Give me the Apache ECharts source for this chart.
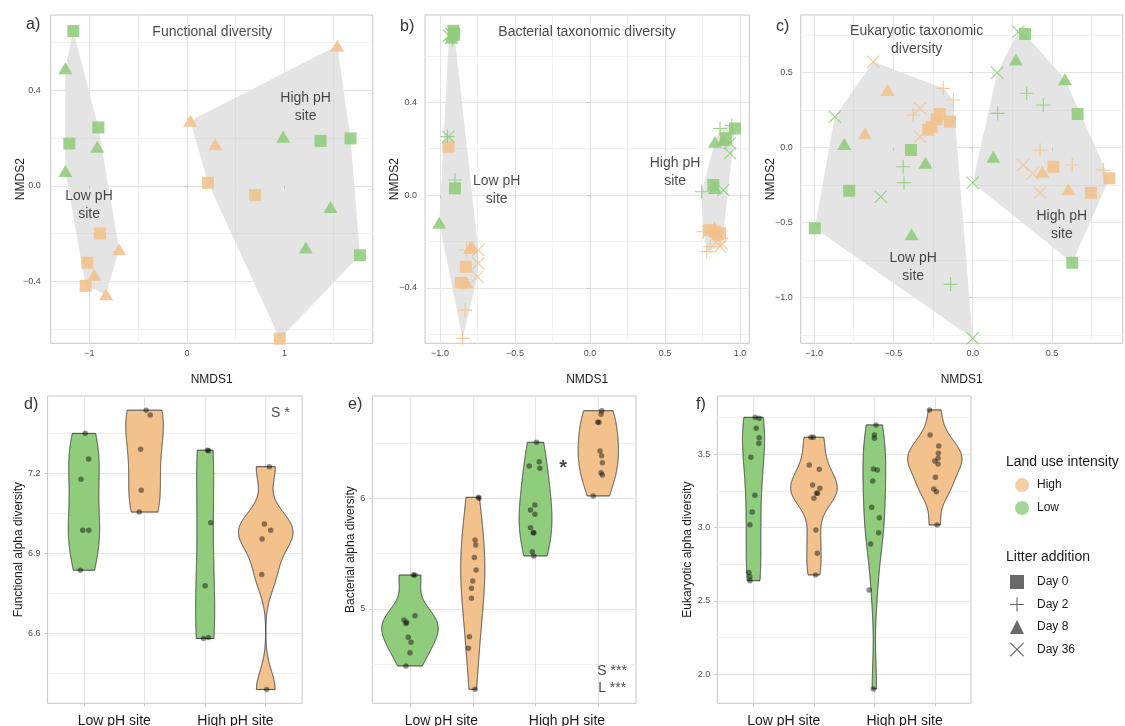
<!DOCTYPE html>
<html><head><meta charset="utf-8">
<script src="https://cdn.jsdelivr.net/npm/echarts@6/dist/echarts.min.js"></script>
<style>html,body{margin:0;padding:0;background:#fff}#c{width:1125px;height:726px}</style>
</head><body><div id="c"></div>
<script>
// ================= DATA =================
const landUse = ['High', 'Low'];
const days = ['Day 0', 'Day 2', 'Day 8', 'Day 36'];
const siteNames = ['Low pH site', 'High pH site'];

// NMDS rows: [NMDS1, NMDS2, site (0 low pH, 1 high pH), landUse (0 High, 1 Low), day index]
const functionalNMDS = [
  [-1.165, 0.647, 0, 1, 0], [-0.908, 0.244, 0, 1, 0], [-1.206, 0.177, 0, 1, 0],
  [-1.247, 0.491, 0, 1, 2], [-0.919, 0.163, 0, 1, 2], [-1.247, 0.062, 0, 1, 2],
  [-0.891, -0.199, 0, 0, 0], [-1.022, -0.321, 0, 0, 0], [-1.038, -0.418, 0, 0, 0],
  [-0.696, -0.265, 0, 0, 2], [-0.950, -0.371, 0, 0, 2], [-0.829, -0.453, 0, 0, 2],
  [1.370, 0.188, 1, 1, 0], [1.678, 0.198, 1, 1, 0], [1.774, -0.290, 1, 1, 0],
  [0.987, 0.205, 1, 1, 2], [1.473, -0.088, 1, 1, 2], [1.219, -0.258, 1, 1, 2],
  [0.216, 0.013, 1, 0, 0], [0.699, -0.039, 1, 0, 0], [0.952, -0.639, 1, 0, 0],
  [1.542, 0.585, 1, 0, 2], [0.034, 0.272, 1, 0, 2], [0.291, 0.174, 1, 0, 2]
];
const bacterialNMDS = [
  [-0.944, 0.208, 0, 0, 0], [-0.827, -0.309, 0, 0, 0], [-0.862, -0.378, 0, 0, 0],
  [-0.822, -0.237, 0, 0, 1], [-0.833, -0.496, 0, 0, 1], [-0.849, -0.618, 0, 0, 1],
  [-0.789, -0.222, 0, 0, 2], [-0.822, -0.378, 0, 0, 2], [-0.800, -0.228, 0, 0, 2],
  [-0.745, -0.237, 0, 0, 3], [-0.745, -0.295, 0, 0, 3], [-0.751, -0.352, 0, 0, 3],
  [-0.911, 0.708, 0, 1, 0], [-0.905, 0.695, 0, 1, 0], [-0.900, 0.029, 0, 1, 0],
  [-0.918, 0.672, 0, 1, 1], [-0.950, 0.252, 0, 1, 1], [-0.900, 0.065, 0, 1, 1],
  [-0.922, 0.678, 0, 1, 2], [-1.005, -0.119, 0, 1, 2], [-0.915, 0.690, 0, 1, 2],
  [-0.940, 0.687, 0, 1, 3], [-0.944, 0.251, 0, 1, 3], [-0.925, 0.695, 0, 1, 3],
  [0.800, -0.151, 1, 0, 0], [0.867, -0.165, 1, 0, 0], [0.833, -0.158, 1, 0, 0],
  [0.756, -0.158, 1, 0, 1], [0.800, -0.223, 1, 0, 1], [0.778, -0.244, 1, 0, 1],
  [0.822, -0.151, 1, 0, 2], [0.850, -0.170, 1, 0, 2], [0.830, -0.140, 1, 0, 2],
  [0.867, -0.223, 1, 0, 3], [0.844, -0.200, 1, 0, 3], [0.880, -0.210, 1, 0, 3],
  [0.967, 0.287, 1, 1, 0], [0.822, 0.043, 1, 1, 0], [0.905, 0.245, 1, 1, 0],
  [0.945, 0.300, 1, 1, 1], [0.867, 0.287, 1, 1, 1], [0.745, 0.014, 1, 1, 1],
  [0.833, 0.230, 1, 1, 2], [0.889, 0.237, 1, 1, 2], [0.833, 0.030, 1, 1, 2],
  [0.933, 0.223, 1, 1, 3], [0.933, 0.180, 1, 1, 3], [0.889, 0.022, 1, 1, 3]
];
const eukaryoticNMDS = [
  [-0.206, 0.225, 0, 0, 0], [-0.227, 0.190, 0, 0, 0], [-0.143, 0.173, 0, 0, 0], [-0.259, 0.140, 0, 0, 0], [-0.280, 0.120, 0, 0, 0],
  [-0.185, 0.396, 0, 0, 1], [-0.122, 0.318, 0, 0, 1], [-0.375, 0.218, 0, 0, 1],
  [-0.536, 0.385, 0, 0, 2], [-0.679, 0.096, 0, 0, 2],
  [-0.627, 0.573, 0, 0, 3], [-0.332, 0.263, 0, 0, 3], [-0.332, 0.073, 0, 0, 3],
  [-0.389, -0.015, 0, 1, 0], [-0.779, -0.287, 0, 1, 0], [-0.995, -0.537, 0, 1, 0],
  [-0.438, -0.127, 0, 1, 1], [-0.433, -0.233, 0, 1, 1], [-0.139, -0.911, 0, 1, 1],
  [-0.810, 0.025, 0, 1, 2], [-0.297, -0.100, 0, 1, 2], [-0.385, -0.577, 0, 1, 2],
  [-0.869, 0.207, 0, 1, 3], [-0.579, -0.327, 0, 1, 3], [0.000, -1.271, 0, 1, 3],
  [0.509, -0.127, 1, 0, 0], [0.862, -0.204, 1, 0, 0], [0.746, -0.300, 1, 0, 0],
  [0.425, -0.015, 1, 0, 1], [0.628, -0.115, 1, 0, 1], [0.824, -0.149, 1, 0, 1],
  [0.439, -0.160, 1, 0, 2], [0.603, -0.277, 1, 0, 2],
  [0.319, -0.115, 1, 0, 3], [0.378, -0.171, 1, 0, 3], [0.425, -0.300, 1, 0, 3],
  [0.330, 0.758, 1, 1, 0], [0.662, 0.225, 1, 1, 0], [0.628, -0.767, 1, 1, 0],
  [0.341, 0.363, 1, 1, 1], [0.446, 0.285, 1, 1, 1], [0.158, 0.229, 1, 1, 1],
  [0.273, 0.589, 1, 1, 2], [0.582, 0.456, 1, 1, 2], [0.130, -0.060, 1, 1, 2],
  [0.288, 0.773, 1, 1, 3], [0.155, 0.500, 1, 1, 3], [0.000, -0.233, 1, 1, 3]
];

// Annotations inside NMDS panels: [NMDS1, NMDS2, text]
const functionalNotes = [[0.26, 0.643, 'Functional diversity'], [1.217, 0.329, 'High pH\nsite'], [-1.004, -0.081, 'Low pH\nsite']];
const bacterialNotes = [[-0.02, 0.703, 'Bacterial taxonomic diversity'], [0.567, 0.10, 'High pH\nsite'], [-0.622, 0.022, 'Low pH\nsite']];
const eukaryoticNotes = [[-0.353, 0.718, 'Eukaryotic taxonomic\ndiversity'], [0.562, -0.515, 'High pH\nsite'], [-0.375, -0.793, 'Low pH\nsite']];

// Alpha diversity, group order: [Low pH/Low LU, Low pH/High LU, High pH/Low LU, High pH/High LU]
const groupLandUse = [1, 0, 1, 0];
const functionalAlpha = [
  [7.35, 7.254, 7.178, 6.987, 6.987, 6.837],
  [7.437, 7.419, 7.29, 7.137, 7.055],
  [7.287, 7.285, 7.015, 6.779, 6.581, 6.585],
  [7.225, 7.01, 6.987, 6.954, 6.821, 6.39]
];
const functionalJitter = [
  [0.02, 0.077, -0.05, -0.02, 0.08, -0.06],
  [0.027, 0.093, -0.066, -0.055, -0.088],
  [0.038, 0.055, 0.093, 0, -0.027, 0.055],
  [0.06, -0.022, 0.082, -0.06, -0.066, 0.016]
];
const bacterialAlpha = [
  [5.307, 5.307, 4.94, 4.9, 4.88, 4.87, 4.744, 4.7, 4.605, 4.485],
  [6.009, 6.0, 5.623, 5.578, 5.464, 5.352, 5.253, 5.187, 5.097, 4.75, 4.645, 4.275],
  [6.506, 6.331, 6.292, 6.271, 5.94, 5.894, 5.855, 5.734, 5.689, 5.689, 5.518, 5.479],
  [6.791, 6.759, 6.686, 6.686, 6.427, 6.385, 6.322, 6.231, 6.21, 6.021]
];
const bacterialJitter = [
  [0.053, 0.08, 0.08, -0.096, -0.053, -0.064, -0.027, 0.016, 0, -0.064],
  [0.09, 0.1, 0.037, 0.048, 0.027, 0.053, 0, -0.021, -0.021, -0.053, -0.069, 0.037],
  [0.016, 0.059, -0.1, 0.069, -0.01, -0.08, -0.01, -0.08, -0.037, -0.027, -0.053, -0.027],
  [0.053, 0.043, 0.01, -0.01, 0.027, 0.053, 0.064, 0.043, 0.064, -0.08]
];
const eukaryoticAlpha = [
  [3.752, 3.745, 3.677, 3.613, 3.575, 3.479, 3.22, 3.106, 3.02, 2.693, 2.665, 2.638],
  [3.616, 3.616, 3.426, 3.397, 3.29, 3.268, 3.234, 3.234, 3.2, 2.984, 2.825, 2.677],
  [3.7, 3.631, 3.609, 3.4, 3.393, 3.318, 3.138, 3.067, 2.965, 2.888, 2.575, 1.9],
  [3.802, 3.631, 3.556, 3.506, 3.472, 3.454, 3.434, 3.343, 3.263, 3.245, 3.018]
];
const eukaryoticJitter = [
  [0.027, 0.093, 0.044, 0.093, 0.088, -0.044, 0.022, -0.022, -0.06, -0.077, -0.06, -0.06],
  [-0.05, -0.01, -0.077, 0.088, -0.022, 0.099, 0.044, 0.06, 0, 0.033, 0.055, 0.027],
  [0.027, 0, 0, -0.016, 0.049, -0.027, -0.044, 0.082, 0.071, -0.06, -0.088, -0.016],
  [-0.088, -0.077, 0.066, 0.06, 0.055, 0, 0.055, 0.011, -0.016, 0.027, 0.038]
];
// Significance notes: [x position, value, text]
const functionalSig = [[4.24, 7.425, 'S *']];
const bacterialSig = [[4.22, 4.359, 'S ***\nL ***']];
const bacterialStar = [[3.44, 6.265, '*']];
const eukaryoticSig = [];

// Tick values
const fdXTicks = [-1, 0, 1], fdXMinor = [-0.5, 0.5, 1.5];
const fdYTicks = [-0.4, 0, 0.4], fdYMinor = [-0.6, -0.2, 0.2, 0.6];
const btXTicks = [-1, -0.5, 0, 0.5, 1], btXMinor = [-0.75, -0.25, 0.25, 0.75];
const btYTicks = [-0.4, 0, 0.4], btYMinor = [-0.6, -0.2, 0.2, 0.6];
const etXTicks = [-1, -0.5, 0, 0.5], etXMinor = [-0.75, -0.25, 0.25, 0.75];
const etYTicks = [-1, -0.5, 0, 0.5], etYMinor = [-1.25, -0.75, -0.25, 0.25, 0.75];
const faTicks = [6.6, 6.9, 7.2], faMinor = [6.45, 6.75, 7.05, 7.35];
const baTicks = [5, 6], baMinor = [4.5, 5.5, 6.5];
const eaTicks = [2.0, 2.5, 3.0, 3.5], eaMinor = [2.25, 2.75, 3.25, 3.75];
const groupPositions = [1, 2, 3, 4];
const siteLabelPositions = [1.5, 3.5];

// ================= STYLE =================
const FONT = '"Liberation Sans", Arial, Helvetica, sans-serif';
const GREEN = '#8fcc7b', ORANGE = '#f3c28c';
const LU_COLORS = [ORANGE, GREEN];
const PLUS = 'path://M0,4.6H10V5.4H0Z M4.6,0H5.4V10H4.6Z';
const CROSS = 'path://M0.6,0L5,4.4L9.4,0L10,0.6L5.6,5L10,9.4L9.4,10L5,5.6L0.6,10L0,9.4L4.4,5L0,0.6Z';
const DAY_SYMBOLS = ['rect', PLUS, 'triangle', CROSS];
const DAY_SIZES = [12, 14, [14, 12], 13];
const BORDER = '#c6c6c6', MAJOR = '#e4e4e4', MINOR = '#f1f1f1';

// ================= HELPERS =================
function convexHull(points) {
  const p = points.map(q => [q[0], q[1]]).sort((a, b) => a[0] - b[0] || a[1] - b[1]);
  const cross = (o, a, b) => (a[0] - o[0]) * (b[1] - o[1]) - (a[1] - o[1]) * (b[0] - o[0]);
  const lower = [], upper = [];
  for (const q of p) { while (lower.length >= 2 && cross(lower[lower.length - 2], lower[lower.length - 1], q) <= 0) lower.pop(); lower.push(q); }
  for (let i = p.length - 1; i >= 0; i--) { const q = p[i]; while (upper.length >= 2 && cross(upper[upper.length - 2], upper[upper.length - 1], q) <= 0) upper.pop(); upper.push(q); }
  upper.pop(); lower.pop();
  return lower.concat(upper);
}
function quantile(s, p) { const h = (s.length - 1) * p, lo = Math.floor(h); return s[lo] + (h - lo) * (s[Math.min(lo + 1, s.length - 1)] - s[lo]); }
function bwNrd0(x) {
  const n = x.length, m = x.reduce((a, b) => a + b, 0) / n;
  const sd = Math.sqrt(x.reduce((a, b) => a + (b - m) * (b - m), 0) / (n - 1));
  const s = [...x].sort((a, b) => a - b);
  let lo = Math.min(sd, (quantile(s, 0.75) - quantile(s, 0.25)) / 1.34);
  if (!(lo > 0)) lo = sd || Math.abs(s[0]) || 1;
  return 0.9 * lo * Math.pow(n, -0.2);
}
function violinPolygons(groups, adjust) {
  const dens = groups.map(v => {
    const lo = Math.min(...v), hi = Math.max(...v), bw = bwNrd0(v) * adjust, ys = [], d = [];
    for (let i = 0; i < 512; i++) {
      const y = lo + (hi - lo) * i / 511; ys.push(y);
      let s = 0; for (const xi of v) s += Math.exp(-0.5 * ((y - xi) / bw) ** 2);
      d.push(s / (v.length * bw * Math.sqrt(2 * Math.PI)));
    }
    return { ys, d };
  });
  const maxD = Math.max(...dens.map(o => Math.max(...o.d)));
  return dens.map((o, g) => {
    const c = groupPositions[g];
    const right = o.ys.map((y, i) => [c + 0.45 * o.d[i] / maxD, y]);
    const left = o.ys.map((y, i) => [c - 0.45 * o.d[i] / maxD, y]).reverse();
    return right.concat(left);
  });
}
const dec1 = v => (v < 0 ? '\u2212' : '') + Math.abs(v).toFixed(1);
const dec0 = v => (v < 0 ? '\u2212' : '') + Math.abs(v).toFixed(0);

// ================= LAYOUT =================
const grids = [
  { left: 50.7, top: 15, width: 322, height: 328.3 },
  { left: 425, top: 15, width: 324.3, height: 328.3 },
  { left: 800.7, top: 15, width: 322, height: 328.3 },
  { left: 47.6, top: 396, width: 254.5, height: 307.3 },
  { left: 372.3, top: 396, width: 263.7, height: 307.3 },
  { left: 717.3, top: 396, width: 253.7, height: 307.3 }
].map(g => Object.assign({ show: true, borderColor: BORDER, borderWidth: 1, backgroundColor: '#fff', containLabel: false, outerBoundsMode: 'none' }, g));

const xAxes = [], yAxes = [];
function primaryAxis(gi, min, max, ticks, fmt, name, nameGap, labelOpt) {
  return {
    type: 'value', gridIndex: gi, min, max, name, nameLocation: 'middle', nameGap, nameMoveOverlap: false,
    nameTextStyle: { fontSize: 12, color: '#1a1a1a', fontFamily: FONT },
    axisLine: { show: false },
    axisTick: { show: true, customValues: ticks, length: 3, lineStyle: { color: BORDER } },
    axisLabel: Object.assign({ customValues: ticks, formatter: fmt, color: '#4d4d4d', fontSize: 9, fontFamily: FONT }, labelOpt),
    splitLine: { show: true, lineStyle: { color: MAJOR, width: 1 } },
    z: 2
  };
}
function minorAxis(gi, min, max, minors) {
  return {
    type: 'value', gridIndex: gi, min, max,
    axisLine: { show: false }, axisTick: { show: false, customValues: minors },
    axisLabel: { show: false }, splitLine: { show: true, lineStyle: { color: MINOR, width: 1 } }
  };
}
const topPanels = [
  { pts: functionalNMDS, notes: functionalNotes, x: [-1.397, 1.905], y: [-0.658, 0.714], xt: fdXTicks, xm: fdXMinor, yt: fdYTicks, ym: fdYMinor, xf: dec0, ymg: 10 },
  { pts: bacterialNMDS, notes: bacterialNotes, x: [-1.1, 1.062], y: [-0.639, 0.776], xt: btXTicks, xm: btXMinor, yt: btYTicks, ym: btYMinor, xf: dec1, ymg: 8 },
  { pts: eukaryoticNMDS, notes: eukaryoticNotes, x: [-1.084, 0.946], y: [-1.304, 0.885], xt: etXTicks, xm: etXMinor, yt: etYTicks, ym: etYMinor, xf: dec1, ymg: 8 }
];
const bottomPanels = [
  { vals: functionalAlpha, jit: functionalJitter, y: [6.338, 7.49], yt: faTicks, ym: faMinor, yf: dec1, name: 'Functional alpha diversity', gap: 23, sig: functionalSig, adjust: 1 },
  { vals: bacterialAlpha, jit: bacterialJitter, y: [4.148, 6.924], yt: baTicks, ym: baMinor, yf: dec0, name: 'Bacterial alpha diversity', gap: 16, sig: bacterialSig, adjust: 1.6 },
  { vals: eukaryoticAlpha, jit: eukaryoticJitter, y: [1.802, 3.897], yt: eaTicks, ym: eaMinor, yf: dec1, name: 'Eukaryotic alpha diversity', gap: 24, sig: eukaryoticSig, adjust: 1 }
];

topPanels.forEach((p, i) => {
  xAxes[i] = primaryAxis(i, p.x[0], p.x[1], p.xt, p.xf, 'NMDS1', 30, { margin: 6 });
  yAxes[i] = primaryAxis(i, p.y[0], p.y[1], p.yt, dec1, 'NMDS2', 24.5, { margin: p.ymg });
});
bottomPanels.forEach((p, k) => {
  const i = 3 + k;
  xAxes[i] = {
    type: 'value', gridIndex: i, min: 0.4, max: 4.6,
    axisLine: { show: false },
    axisTick: { show: true, customValues: groupPositions, length: 3, lineStyle: { color: BORDER } },
    axisLabel: { customValues: siteLabelPositions, formatter: v => siteNames[v < 2.5 ? 0 : 1], fontSize: 14, color: '#1a1a1a', margin: 11, fontFamily: FONT },
    splitLine: { show: true, lineStyle: { color: MAJOR, width: 1 } }
  };
  yAxes[i] = primaryAxis(i, p.y[0], p.y[1], p.yt, p.yf, p.name, p.gap, { margin: 7 });
});
topPanels.forEach((p, i) => { xAxes.push(minorAxis(i, p.x[0], p.x[1], p.xm)); yAxes.push(minorAxis(i, p.y[0], p.y[1], p.ym)); });
bottomPanels.forEach((p, k) => { yAxes.push(minorAxis(3 + k, p.y[0], p.y[1], p.ym)); });

// ================= SERIES =================
const series = [];
const noteLabel = { show: true, position: 'inside', color: '#1a1a1a', fontSize: 14, lineHeight: 18, fontFamily: FONT, align: 'center', verticalAlign: 'middle' };
function noteSeries(ai, notes, extra) {
  return {
    type: 'scatter', name: 'note', xAxisIndex: ai, yAxisIndex: ai, symbolSize: 1, silent: true, z: 6,
    itemStyle: { color: 'rgba(0,0,0,0)' },
    label: Object.assign({}, noteLabel, extra || {}),
    data: notes.map(n => ({ value: [n[0], n[1]], label: { formatter: n[2] } }))
  };
}

topPanels.forEach((p, i) => {
  const hulls = [0, 1].map(s => convexHull(p.pts.filter(r => r[2] === s)));
  series.push({
    type: 'custom', name: 'hull', xAxisIndex: i, yAxisIndex: i, silent: true, z: 1,
    data: hulls.map((h, k) => [h[0][0], h[0][1], k]),
    renderItem: (params, api) => ({
      type: 'polygon',
      shape: { points: hulls[params.dataIndex].map(q => api.coord(q)) },
      style: { fill: 'rgba(185,185,185,0.38)', stroke: null }
    })
  });
  [0, 1].forEach(lu => {
    series.push({
      type: 'scatter', name: landUse[lu], xAxisIndex: i, yAxisIndex: i, silent: true, z: 3,
      symbol: v => DAY_SYMBOLS[v[2]], symbolSize: v => DAY_SIZES[v[2]],
      itemStyle: { color: LU_COLORS[lu], opacity: 0.88 },
      data: p.pts.filter(r => r[3] === lu).map(r => [r[0], r[1], r[4]])
    });
  });
  series.push(noteSeries(i, p.notes));
});

bottomPanels.forEach((p, k) => {
  const i = 3 + k;
  const polys = violinPolygons(p.vals, p.adjust);
  series.push({
    type: 'custom', name: 'violin', xAxisIndex: i, yAxisIndex: i, silent: true, z: 2,
    data: polys.map((poly, g) => [groupPositions[g], p.vals[g][0], g]),
    renderItem: (params, api) => ({
      type: 'polygon',
      shape: { points: polys[params.dataIndex].map(q => api.coord(q)) },
      style: { fill: LU_COLORS[groupLandUse[params.dataIndex]], stroke: '#333', lineWidth: 0.9 }
    })
  });
  const pts = [];
  p.vals.forEach((arr, g) => arr.forEach((v, j) => pts.push([groupPositions[g] + p.jit[g][j], v])));
  series.push({
    type: 'scatter', name: 'obs', xAxisIndex: i, yAxisIndex: i, silent: true, z: 4,
    symbolSize: 5.5, itemStyle: { color: 'rgba(0,0,0,0.55)' }, data: pts
  });
  if (p.sig.length) series.push(noteSeries(i, p.sig, { lineHeight: 17 }));
});
series.push(noteSeries(4, bacterialStar, { fontSize: 20, fontWeight: 'bold' }));

// legend-only series for litter addition
days.forEach(d => series.push({ type: 'scatter', name: d, xAxisIndex: 0, yAxisIndex: 0, data: [], itemStyle: { color: '#444' } }));

// ================= TITLES / LEGEND =================
const tags = [['a)', 26, 17], ['b)', 400, 19], ['c)', 776, 19], ['d)', 24, 397], ['e)', 348, 397], ['f)', 696, 397]];
const titles = tags.map(t => ({ text: t[0], left: t[1], top: t[2], padding: 0, textStyle: { fontSize: 16, fontWeight: 'normal', color: '#333', fontFamily: FONT } }));
titles.push({ text: 'Land use intensity', left: 1006, top: 455, padding: 0, textStyle: { fontSize: 14, fontWeight: 'normal', color: '#1a1a1a', fontFamily: FONT } });
titles.push({ text: 'Litter addition', left: 1006, top: 550, padding: 0, textStyle: { fontSize: 14, fontWeight: 'normal', color: '#1a1a1a', fontFamily: FONT } });

const legends = [
  {
    selectedMode: false, orient: 'vertical', left: 1015, top: 478, padding: 0, itemGap: 9, itemWidth: 14, itemHeight: 14,
    textStyle: { fontSize: 12, color: '#1a1a1a', fontFamily: FONT, padding: [0, 0, 0, 3] },
    data: landUse.map((n, k) => ({ name: n, icon: 'circle', itemStyle: { color: LU_COLORS[k], opacity: 0.8 } }))
  },
  {
    selectedMode: false, orient: 'vertical', left: 1010, top: 575, padding: 0, itemGap: 8.5, itemWidth: 14, itemHeight: 14,
    textStyle: { fontSize: 12, color: '#1a1a1a', fontFamily: FONT, padding: [0, 0, 0, 8] },
    data: days.map((n, k) => ({ name: n, icon: DAY_SYMBOLS[k], itemStyle: { color: '#444' } }))
  }
];

const chart = echarts.init(document.getElementById('c'), null, { renderer: 'canvas' });
chart.setOption({
  animation: false,
  backgroundColor: '#fff',
  textStyle: { fontFamily: FONT },
  title: titles,
  legend: legends,
  grid: grids,
  xAxis: xAxes,
  yAxis: yAxes,
  series
});
</script>
</body></html>
